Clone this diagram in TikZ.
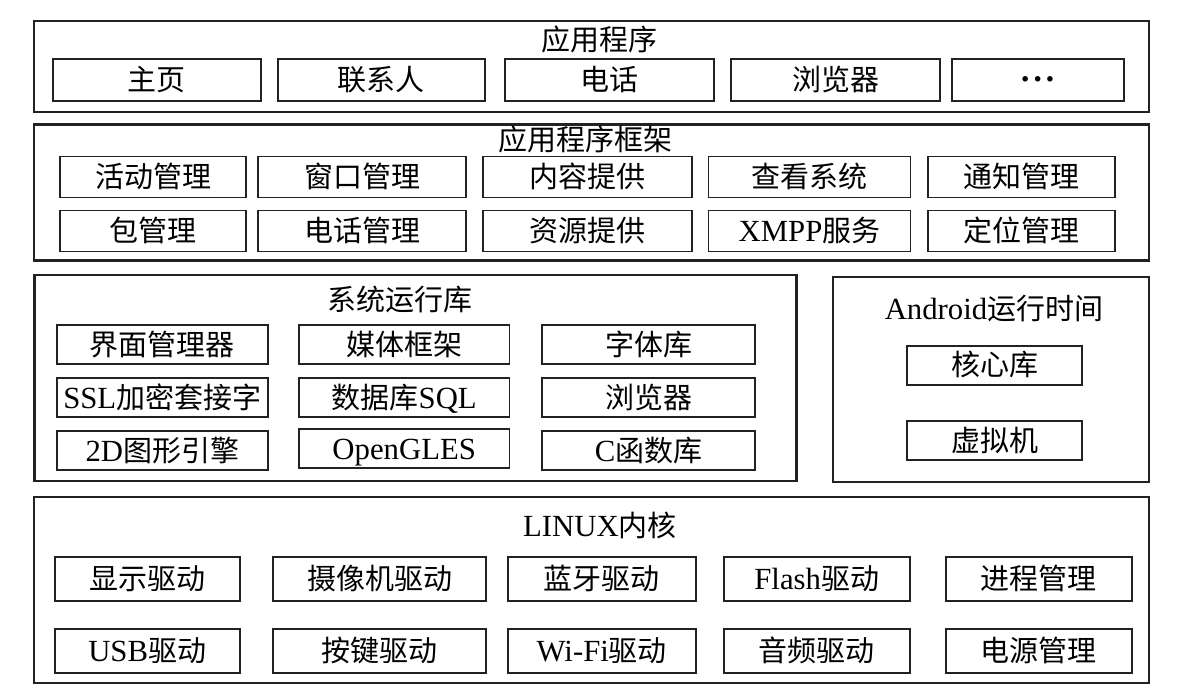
\documentclass[tikz,border=0pt]{standalone}
\usepackage{fontspec}
\setmainfont{Liberation Serif}[Scale=1.06]
\newfontfamily\cjkfont{Noto Sans CJK SC}
\newcommand\zhtxt[1]{{\cjkfont #1}}
\definecolor{linec}{HTML}{222222}
\begin{document}
\begin{tikzpicture}[x=1pt,y=-1pt,
  layerbox/.style={draw=linec, line width=2.2pt, inner sep=0pt, anchor=center},
  itembox/.style={draw=linec, line width=1.9pt, inner sep=0pt, anchor=center,
    font=\fontsize{29}{31}\selectfont, text height=23pt, text depth=2pt},
  titletext/.style={inner sep=0pt, anchor=center,
    font=\fontsize{29}{31}\selectfont, text height=23pt, text depth=2pt}]
\path[use as bounding box, fill=white] (0,0) rectangle (1186,696);

% layer boxes
\node[layerbox, minimum width=1115pt, minimum height=91pt] (L1) at (591.8,66.2) {};
\node[layerbox, minimum width=1115pt, minimum height=136pt] (L2) at (591.8,192.4) {};
\node[layerbox, minimum width=762pt, minimum height=206pt] (L3) at (415.5,378.2) {};
\node[layerbox, minimum width=315.5pt, minimum height=205pt] (L4) at (991,379.1) {};
\node[layerbox, minimum width=1114.5pt, minimum height=186pt] (L5) at (591.5,590.2) {};

% titles
\node[titletext] (T1) at (599,40) {\zhtxt{应用程序}};
\node[titletext] (T2) at (585,139.5) {\zhtxt{应用程序框架}};
\node[titletext] (T3) at (400,300) {\zhtxt{系统运行库}};
\node[titletext] (T4) at (994,309) {Android\zhtxt{运行时间}};
\node[titletext] (T5) at (600,526) {LINUX\zhtxt{内核}};

% applications
\node[itembox, minimum width=208pt, minimum height=42pt] (a1) at (156.7,79.6) {\zhtxt{主页}};
\node[itembox, minimum width=207pt, minimum height=42pt] (a2) at (381.4,79.6) {\zhtxt{联系人}};
\node[itembox, minimum width=209pt, minimum height=42pt] (a3) at (609.5,79.6) {\zhtxt{电话}};
\node[itembox, minimum width=209pt, minimum height=42pt] (a4) at (835.5,79.6) {\zhtxt{浏览器}};
\node[itembox, minimum width=172pt, minimum height=42pt] (a5) at (1037.7,79.6) {\textbf{\fontsize{32}{32}\selectfont ·\kern1pt·\kern1pt·}};

% framework
\node[itembox, minimum width=186pt, minimum height=41pt] (f11) at (153.3,177) {\zhtxt{活动管理}};
\node[itembox, minimum width=208pt, minimum height=41pt] (f12) at (362.2,177) {\zhtxt{窗口管理}};
\node[itembox, minimum width=209.5pt, minimum height=41pt] (f13) at (587.6,177) {\zhtxt{内容提供}};
\node[itembox, minimum width=202pt, minimum height=41pt] (f14) at (809.5,177) {\zhtxt{查看系统}};
\node[itembox, minimum width=187pt, minimum height=41pt] (f15) at (1021.3,177) {\zhtxt{通知管理}};
\node[itembox, minimum width=186pt, minimum height=41pt] (f21) at (153.3,231) {\zhtxt{包管理}};
\node[itembox, minimum width=208pt, minimum height=41pt] (f22) at (362.2,231) {\zhtxt{电话管理}};
\node[itembox, minimum width=209.5pt, minimum height=41pt] (f23) at (587.6,231) {\zhtxt{资源提供}};
\node[itembox, minimum width=202pt, minimum height=41pt] (f24) at (809.5,231) {XMPP\zhtxt{服务}};
\node[itembox, minimum width=187pt, minimum height=41pt] (f25) at (1021.3,231) {\zhtxt{定位管理}};

% libraries
\node[itembox, minimum width=211.5pt, minimum height=39pt] (s11) at (162.3,344.5) {\zhtxt{界面管理器}};
\node[itembox, minimum width=210.6pt, minimum height=39pt] (s12) at (404.2,344.5) {\zhtxt{媒体框架}};
\node[itembox, minimum width=213.3pt, minimum height=39pt] (s13) at (648.7,344.5) {\zhtxt{字体库}};
\node[itembox, minimum width=211.5pt, minimum height=39pt] (s21) at (162.3,397.8) {SSL\zhtxt{加密套接字}};
\node[itembox, minimum width=210.6pt, minimum height=39pt] (s22) at (404.2,397.8) {\zhtxt{数据库}SQL};
\node[itembox, minimum width=213.3pt, minimum height=39pt] (s23) at (648.7,397.8) {\zhtxt{浏览器}};
\node[itembox, minimum width=211.5pt, minimum height=39pt] (s31) at (162.3,450.7) {2D\zhtxt{图形引擎}};
\node[itembox, minimum width=210.6pt, minimum height=39pt] (s32) at (404.2,448.7) {OpenGLES};
\node[itembox, minimum width=213.3pt, minimum height=39pt] (s33) at (648.7,450.7) {C\zhtxt{函数库}};

% android runtime
\node[itembox, minimum width=175.6pt, minimum height=39pt] (r1) at (994.6,365.4) {\zhtxt{核心库}};
\node[itembox, minimum width=175.6pt, minimum height=39pt] (r2) at (994.6,440.5) {\zhtxt{虚拟机}};

% linux kernel
\node[itembox, minimum width=185pt, minimum height=44pt] (k11) at (147.2,579) {\zhtxt{显示驱动}};
\node[itembox, minimum width=212.6pt, minimum height=44pt] (k12) at (379.6,579) {\zhtxt{摄像机驱动}};
\node[itembox, minimum width=188.4pt, minimum height=44pt] (k13) at (601.8,579) {\zhtxt{蓝牙驱动}};
\node[itembox, minimum width=186.2pt, minimum height=44pt] (k14) at (816.7,579) {Flash\zhtxt{驱动}};
\node[itembox, minimum width=185.5pt, minimum height=44pt] (k15) at (1038.8,579) {\zhtxt{进程管理}};
\node[itembox, minimum width=185pt, minimum height=44pt] (k21) at (147.2,650.8) {USB\zhtxt{驱动}};
\node[itembox, minimum width=212.6pt, minimum height=44pt] (k22) at (379.6,650.8) {\zhtxt{按键驱动}};
\node[itembox, minimum width=188.4pt, minimum height=44pt] (k23) at (601.8,650.8) {Wi-Fi\zhtxt{驱动}};
\node[itembox, minimum width=186.2pt, minimum height=44pt] (k24) at (816.7,650.8) {\zhtxt{音频驱动}};
\node[itembox, minimum width=185.5pt, minimum height=44pt] (k25) at (1038.8,650.8) {\zhtxt{电源管理}};
\end{tikzpicture}
\end{document}
